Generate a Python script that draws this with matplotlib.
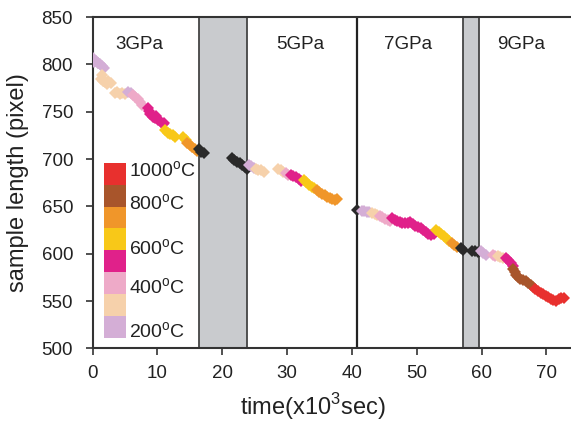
import matplotlib
matplotlib.use("Agg")
import matplotlib.pyplot as plt
from matplotlib.patches import Rectangle

plt.rcParams['font.family'] = ['Liberation Sans', 'DejaVu Sans']
plt.rcParams['mathtext.fontset'] = 'custom'
plt.rcParams['mathtext.rm'] = 'Liberation Sans'

# temperature colour scale, hottest first
temp_colors = {
    'red': '#e8302e',
    'brown': '#a8552b',
    'orange': '#f0962a',
    'yellow': '#f8c818',
    'magenta': '#e0218a',
    'pink': '#eeaac8',
    'peach': '#f6d1ab',
    'lavender': '#d4aed6',
    'black': '#2a2a2a',
}
legend_order = ['red', 'brown', 'orange', 'yellow', 'magenta', 'pink', 'peach', 'lavender']
legend_labels = ['1000', '800', '600', '400', '200']
legend_label_pos = [0.538, 0.438, 0.302, 0.184, 0.050]

# pressure steps: shaded transitions and the 5->7 GPa boundary
shade_spans = [(16.5, 23.8), (57.2, 59.6)]
boundary_x = 40.8
pressure_labels = ['3GPa', '5GPa', '7GPa', '9GPa']
pressure_x = [7.3, 32.0, 48.7, 66.1]

# measured sample length, grouped by run segment
time = [
    # 3 GPa
    0.0, 0.3, 0.6, 0.9, 1.2, 1.5, 1.7, 0.2, 0.8,
    1.4, 1.3, 1.6, 2.0, 2.4, 2.8, 2.2, 1.8,
    3.4, 3.8, 4.2, 4.6, 5.0,
    5.5, 5.9,
    6.2, 6.6, 7.0, 7.3, 7.7,
    8.6, 8.7, 8.9, 9.3, 9.7, 10.1, 10.5, 10.9, 11.1, 9.8, 9.5,
    11.2, 11.6, 12.0, 12.4, 12.8,
    14.0, 14.4,
    14.6, 15.0, 15.4, 15.8, 16.1,
    16.4, 16.8, 17.2,
    # 5 GPa
    21.5, 21.9, 22.3, 22.7, 23.1, 23.5, 23.8,
    24.1, 24.5, 24.9,
    25.2, 25.6, 26.0, 26.4,
    28.6, 29.0, 29.4,
    29.8, 30.2,
    30.6, 31.0, 31.4, 31.8, 32.2,
    32.6, 33.0, 33.4, 33.8, 34.2,
    34.6, 35.0, 35.4, 35.8, 36.2, 36.6, 37.0, 37.4, 37.7,
    # 7 GPa
    40.8,
    41.5, 41.9, 42.3, 42.7,
    43.1, 43.5, 43.9,
    44.3, 44.7, 45.1, 45.5, 45.9,
    46.2, 46.6, 47.0, 47.4, 47.8, 48.2, 48.6, 49.0, 49.4, 49.8,
    50.2, 50.6, 51.0, 51.4, 51.8, 52.2, 52.6,
    53.0, 53.4, 53.8, 54.2, 54.6, 55.0,
    55.4, 55.8, 56.2,
    56.8, 57.2,
    # 9 GPa
    58.6, 59.0, 59.4,
    59.9, 60.3, 60.7,
    61.7, 62.1,
    62.5, 62.9, 63.3,
    63.7, 64.1, 64.5, 64.9,
    64.9, 65.1, 65.3, 65.6, 66.0, 66.4, 66.8, 67.2, 67.6, 67.9,
    68.3, 68.7, 69.1, 69.5, 69.9, 70.3, 70.7, 71.1, 71.5, 71.9, 72.3, 72.7,
]
length = [
    807, 805, 804, 802, 800, 798, 796, 803, 801,
    789, 785, 782, 781, 782, 780, 779, 783,
    770, 771, 769, 770, 769,
    771, 770,
    768, 766, 763, 760, 757,
    754, 751, 748, 745, 743, 741, 739, 737, 738, 746, 744,
    731, 728, 727, 725, 723,
    723, 720,
    717, 715, 713, 711, 709,
    711, 708, 706,
    701, 699, 697, 696, 694, 692, 690,
    694, 693, 691,
    690, 689, 688, 686,
    690, 688, 686,
    685, 683,
    683, 682, 681, 679, 677,
    678, 676, 673, 671, 669,
    667, 665, 663, 662, 660, 659, 658, 657, 658,
    646,
    645, 645, 644, 644,
    643, 642, 641,
    640, 639, 637, 636, 635,
    638, 636, 635, 634, 633, 632, 632, 634, 631, 629,
    628, 627, 625, 623, 621, 620, 621,
    625, 623, 621, 619, 616, 613,
    611, 609, 607,
    606, 604,
    603, 603, 602,
    603, 601, 599,
    599, 598,
    598, 597, 596,
    595, 593, 590, 587,
    584, 581, 578, 575, 573, 572, 571, 569, 567, 565,
    563, 561, 559, 557, 555, 554, 552, 551, 550, 552, 553, 553,
]
color_key = (
    ['lavender'] * 9 + ['peach'] * 8 + ['peach'] * 5 + ['lavender'] * 2
    + ['pink'] * 5 + ['magenta'] * 11 + ['yellow'] * 5 + ['yellow'] * 2
    + ['orange'] * 5 + ['black'] * 3
    + ['black'] * 7 + ['lavender'] * 3 + ['peach'] * 4 + ['peach'] * 3
    + ['pink'] * 2 + ['magenta'] * 5 + ['yellow'] * 5 + ['orange'] * 9
    + ['black'] + ['lavender'] * 4 + ['peach'] * 3 + ['pink'] * 5
    + ['magenta'] * 17 + ['yellow'] * 6 + ['orange'] * 3 + ['black'] * 2
    + ['black'] * 3 + ['lavender'] * 3 + ['pink'] * 2 + ['peach'] * 3
    + ['magenta'] * 4 + ['brown'] * 10 + ['red'] * 12
)

fig = plt.figure(figsize=(5.71, 4.28), dpi=100)
ax = fig.add_axes([0.162, 0.186, 0.838, 0.774])

for a, b in shade_spans:
    ax.axvspan(a, b, facecolor='#c9cbce', edgecolor='#444444', linewidth=1.3, zorder=1)
ax.axvline(boundary_x, color='#222222', linewidth=1.6, zorder=1)

for t, l, c in zip(time, length, color_key):
    ax.plot(t, l, marker='D', markersize=6, color=temp_colors[c],
            markeredgewidth=0, linestyle='none', zorder=3)

for lab, x in zip(pressure_labels, pressure_x):
    ax.text(x, 821, lab, ha='center', va='center', fontsize=13.5, color='#222222')

# colour key drawn as a stacked column of swatches
sw_x, sw_w, sw_h, sw_top = 0.025, 0.044, 0.066, 0.560
for i, name in enumerate(legend_order):
    ax.add_patch(Rectangle((sw_x, sw_top - (i + 1) * sw_h), sw_w, sw_h,
                           transform=ax.transAxes, facecolor=temp_colors[name],
                           edgecolor='none', zorder=4))
for lab, y in zip(legend_labels, legend_label_pos):
    ax.text(0.076, y, lab + r'$^{\mathrm{o}}$C', transform=ax.transAxes,
            ha='left', va='center', fontsize=14, color='#222222', zorder=4)

ax.set_xlim(0, 73.8)
ax.set_ylim(500, 850)
ax.set_xticks(range(0, 71, 10))
ax.set_yticks(range(500, 851, 50))
ax.tick_params(direction='out', length=5, width=1.2, labelsize=13.5,
               colors='#333333', labelcolor='#222222')
ax.tick_params(axis='y', pad=9)
ax.tick_params(axis='x', pad=7)
for side in ['left', 'bottom', 'top']:
    ax.spines[side].set_color('#333333')
    ax.spines[side].set_linewidth(1.5)
ax.spines['right'].set_visible(False)

ax.set_xlabel('time(x10$^{3}$sec)', fontsize=17, color='#222222')
ax.set_ylabel('sample length (pixel)', fontsize=17, color='#222222')
ax.xaxis.set_label_coords(0.46, -0.13)
ax.yaxis.set_label_coords(-0.133, 0.5)

fig.savefig('out.png', dpi=100)
